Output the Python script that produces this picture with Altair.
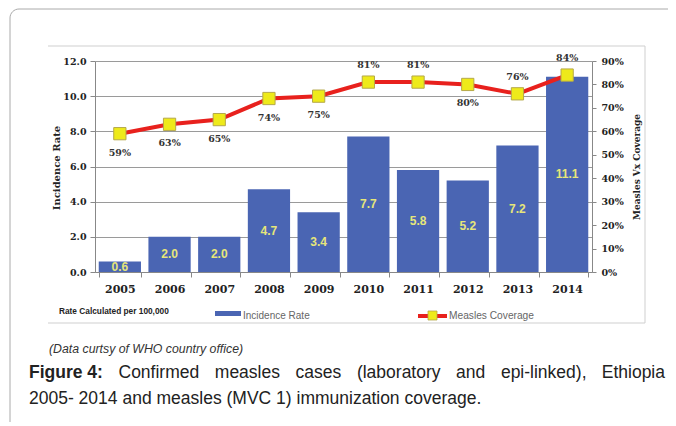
import altair as alt
import pandas as pd

# ---- data ----
years = ["2005", "2006", "2007", "2008", "2009", "2010", "2011", "2012", "2013", "2014"]
incidence = [0.6, 2.0, 2.0, 4.7, 3.4, 7.7, 5.8, 5.2, 7.2, 11.1]
coverage = [59, 63, 65, 74, 75, 81, 81, 80, 76, 84]
label_above_years = ["2010", "2011", "2013", "2014"]
left_ticks = [0, 2, 4, 6, 8, 10, 12]
right_ticks = [0, 10, 20, 30, 40, 50, 60, 70, 80, 90]

df = pd.DataFrame({"year": years, "rate": incidence, "cov": coverage})
df["rate_label"] = [f"{v:.1f}" for v in incidence]
df["cov_label"] = [f"{v}%" for v in coverage]
df["side"] = ["above" if y in label_above_years else "below" for y in years]

# ---- layout ----
X0, Y0 = 95, 61          # plot area origin on the page
W, H = 497, 211
PAD_L, PAD_T = X0 - 8, Y0 - 8

BLUE = "#4a65b3"
RED = "#e8211d"
YELLOW = "#eeea1a"
SERIF = "DejaVu Serif"
SANS = "Liberation Sans"

x_enc = alt.X(
    "year:N",
    sort=years,
    scale=alt.Scale(paddingInner=0.15, paddingOuter=0.075),
    axis=alt.Axis(
        title=None, labelAngle=0, labelFont=SERIF, labelFontWeight="bold",
        labelFontSize=11, labelColor="#222", labelPadding=6, tickBand="extent",
        tickSize=5, tickColor="#888", domainColor="#888",
    ),
)

yl_scale = alt.Scale(domain=[0, 12], nice=False)
left_axis = alt.Axis(
    title=None, values=left_ticks, format=".1f", labelFont=SERIF,
    labelFontWeight="bold", labelFontSize=9.5, labelColor="#222",
    labelPadding=4, grid=True, gridColor="#9a9a9a", tickSize=5,
    tickColor="#888", domainColor="#888",
)

bars = alt.Chart(df).mark_bar(color=BLUE).encode(
    x=x_enc, y=alt.Y("rate:Q", scale=yl_scale, axis=left_axis)
)
bar_labels = alt.Chart(df).transform_calculate(half="datum.rate / 2").mark_text(
    font=SANS, fontWeight="bold", fontSize=12, color="#e6e67a"
).encode(
    x=x_enc, y=alt.Y("half:Q", scale=yl_scale, axis=left_axis), text="rate_label:N"
)


def gx(X):
    return X - X0


def gy(Y):
    return Y - Y0


one = alt.Data(values=[{}])


def txt(s, X, Y, **kw):
    return alt.Chart(one).mark_text(**kw).encode(
        x=alt.value(gx(X)), y=alt.value(gy(Y)), text=alt.value(s)
    )


def rule(X1, Y1, X2, Y2, **kw):
    return alt.Chart(one).mark_rule(**kw).encode(
        x=alt.value(gx(X1)), y=alt.value(gy(Y1)),
        x2=alt.value(gx(X2)), y2=alt.value(gy(Y2)),
    )


def box(X1, Y1, X2, Y2, **kw):
    return alt.Chart(one).mark_rect(**kw).encode(
        x=alt.value(gx(X1)), y=alt.value(gy(Y1)),
        x2=alt.value(gx(X2)), y2=alt.value(gy(Y2)),
    )


cap = dict(font=SANS, fontSize=17.5, color="#222", align="left", baseline="middle")
L1, L2 = 373, 399

decor = [
    # page frame
    box(10, 9, 720, 470, fillOpacity=0, stroke="#aaaaaa", strokeWidth=1, cornerRadius=9),
    # chart frame (top, right, bottom)
    rule(48, 46, 645, 46, color="#cfcfcf", strokeWidth=1),
    rule(645, 46, 645, 323, color="#cfcfcf", strokeWidth=1),
    rule(48, 323, 645, 323, color="#cfcfcf", strokeWidth=1),
    # axis titles
    txt("Incidence Rate", 57, 168, angle=270, font=SERIF, fontWeight="bold",
        fontSize=10, color="#222", align="center", baseline="middle"),
    txt("Measles Vx Coverage", 637, 167, angle=270, font=SERIF, fontWeight="bold",
        fontSize=9, color="#222", align="center", baseline="middle"),
    # legend row
    txt("Rate Calculated per 100,000", 59, 312, font=SANS, fontWeight="bold",
        fontSize=8.3, color="#222", align="left", baseline="middle"),
    box(215, 311, 241, 316, color=BLUE),
    txt("Incidence Rate", 243, 316, font=SANS, fontSize=10, color="#666",
        align="left", baseline="middle"),
    rule(418, 316, 447, 316, color=RED, strokeWidth=4),
    box(428, 311, 437, 320, color=YELLOW, stroke="#b5a84a", strokeWidth=0.8),
    txt("Measles Coverage", 449, 316, font=SANS, fontSize=10.2, color="#666",
        align="left", baseline="middle"),
    # source note
    txt("(Data curtsy of WHO country office)", 49, 349, font=SANS, fontStyle="italic",
        fontSize=12.3, color="#333", align="left", baseline="middle"),
    # figure caption (justified first line)
    txt("Figure 4:", 29, L1, fontWeight="bold", **cap),
    txt("Confirmed", 118.5, L1, **cap),
    txt("measles", 214.8, L1, **cap),
    txt("cases", 295.6, L1, **cap),
    txt("(laboratory", 356.9, L1, **cap),
    txt("and", 456.1, L1, **cap),
    txt("epi-linked),", 500.9, L1, **cap),
    txt("Ethiopia", 665, L1, **{**cap, "align": "right"}),
    txt("2005- 2014 and measles (MVC 1) immunization coverage.", 29, L2, **cap),
]

left = alt.layer(*decor, bars, bar_labels)

yr_scale = alt.Scale(domain=[0, 90], nice=False)
right_axis = alt.Axis(
    title=None, orient="right", values=right_ticks, labelExpr="datum.value + '%'",
    labelFont=SERIF, labelFontWeight="bold", labelFontSize=9.5, labelColor="#222",
    labelPadding=5, grid=False, tickSize=4, tickColor="#888", domainColor="#888",
)
y_r = alt.Y("cov:Q", scale=yr_scale, axis=right_axis)

line = alt.Chart(df).mark_line(color=RED, strokeWidth=4).encode(x=x_enc, y=y_r)
points = alt.Chart(df).mark_square(
    size=150, fill=YELLOW, stroke="#b5a84a", strokeWidth=1, opacity=1
).encode(x=x_enc, y=y_r)
lab_style = dict(font=SERIF, fontWeight="bold", fontSize=9.5, color="#333")
labels_below = alt.Chart(df).transform_filter("datum.side == 'below'").mark_text(
    dy=19, **lab_style
).encode(x=x_enc, y=y_r, text="cov_label:N")
labels_above = alt.Chart(df).transform_filter("datum.side == 'above'").mark_text(
    dy=-17, **lab_style
).encode(x=x_enc, y=y_r, text="cov_label:N")

right = alt.layer(line, points, labels_below, labels_above)

chart = (
    alt.layer(left, right)
    .resolve_scale(y="independent")
    .properties(
        width=W,
        height=H,
        padding={"left": PAD_L, "top": PAD_T, "right": 76, "bottom": 150},
        autosize=alt.AutoSizeParams(type="none"),
        background="white",
    )
    .configure_view(strokeWidth=0)
)

chart.save("out.html", embed_options={"renderer": "svg", "actions": False})
